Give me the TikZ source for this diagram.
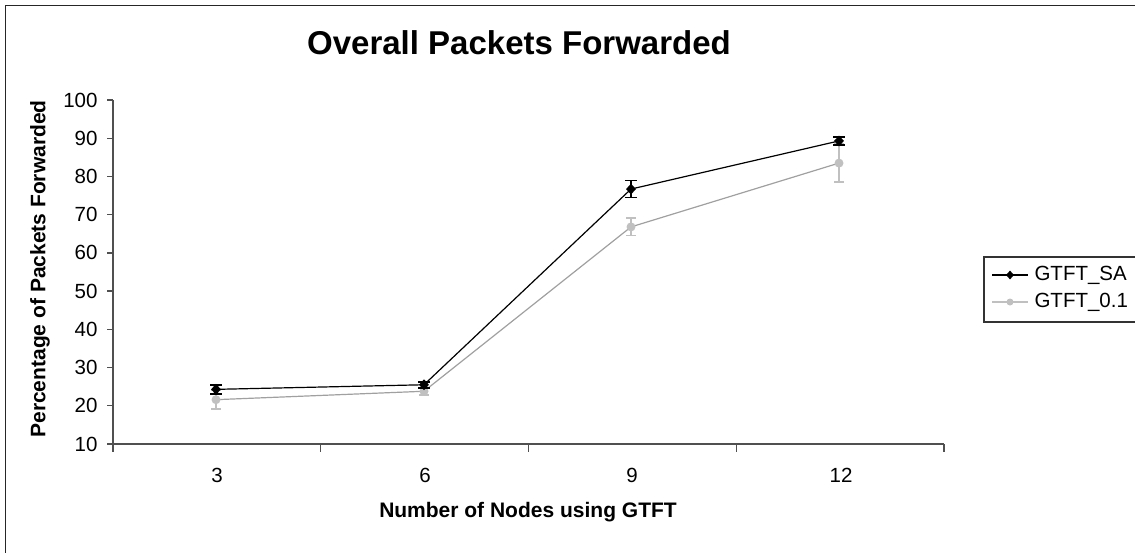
\documentclass[tikz,border=0pt]{standalone}
\usepackage{fontspec}
\setmainfont{Liberation Sans}
\usetikzlibrary{shapes.geometric}
\definecolor{greymark}{RGB}{192,192,192}
\definecolor{greyline}{RGB}{160,160,160}
\definecolor{axisgrey}{RGB}{80,80,80}
% value -> vertical pixel position
\newcommand\vpos[1]{444-(#1-10)*3.822}
\begin{document}
\begin{tikzpicture}[x=1pt,y=-1pt,
  samark/.style={diamond,fill=black,inner sep=0pt,minimum width=10pt,minimum height=11pt},
  gmark/.style={circle,fill=greymark,inner sep=0pt,minimum size=9pt},
  saline/.style={black,line width=1.2pt},
  gline/.style={greyline,line width=1.2pt},
  sabar/.style={black,line width=1.6pt},
  gbar/.style={greymark,line width=1.4pt},
  ticklab/.style={font=\fontsize{20.5}{24}\selectfont},
  axtitle/.style={font=\fontsize{21}{25}\bfseries\selectfont},
  axisline/.style={axisgrey,line width=1.3pt}]
\useasboundingbox (0,0) rectangle (1135,552);

% outer frame
\draw[black!85,line width=1.5pt] (5.5,560) -- (5.5,5.5) -- (1140,5.5);

% title
\node[font=\fontsize{33}{38}\bfseries\selectfont] (title) at (519,43) {Overall Packets Forwarded};

% axes
\draw[axisline] (113,100) -- (113,444) -- (944,444);
\foreach \v in {10,20,...,100}{
  \draw[axisline] (107,{\vpos{\v}}) -- (113,{\vpos{\v}});
  \node[ticklab,anchor=east] (yl\v) at (101,{\vpos{\v}}) {\v};
}
\foreach \i in {0,...,4}{
  \draw[axisline] ({113+\i*207.75},444) -- ({113+\i*207.75},452);
}
\foreach \c/\n [count=\k] in {217/3,425/6,632/9,841/12}{
  \node[ticklab] (xl\k) at (\c,475) {\n};
}

% axis titles
\node[axtitle,rotate=90] (ytitle) at (40,269) {Percentage of Packets Forwarded};
\node[axtitle] (xtitle) at (528,512) {Number of Nodes using GTFT};

% data points
\coordinate (g1) at (216,{\vpos{21.6}});
\coordinate (g2) at (424,{\vpos{23.8}});
\coordinate (g3) at (631,{\vpos{66.8}});
\coordinate (g4) at (839,{\vpos{83.5}});
\coordinate (s1) at (216,{\vpos{24.3}});
\coordinate (s2) at (424,{\vpos{25.5}});
\coordinate (s3) at (631,{\vpos{76.7}});
\coordinate (s4) at (839,{\vpos{89.3}});

% GTFT_0.1 series
\draw[gline] (g1) -- (g2) -- (g3) -- (g4);
\foreach \p/\e in {g1/2.4,g2/1.0,g3/2.3,g4/5.0}{
  \draw[gbar] ([yshift=-\e*3.822pt]\p) -- ([yshift=\e*3.822pt]\p);
  \draw[gbar] ([xshift=-5pt,yshift=-\e*3.822pt]\p) -- ([xshift=5pt,yshift=-\e*3.822pt]\p);
  \draw[gbar] ([xshift=-5pt,yshift=\e*3.822pt]\p) -- ([xshift=5pt,yshift=\e*3.822pt]\p);
}
\foreach \p in {g1,g2,g3,g4}{ \node[gmark] (m\p) at (\p) {}; }

% GTFT_SA series
\draw[saline] (s1) -- (s2) -- (s3) -- (s4);
\foreach \p/\e in {s1/1.2,s2/0.8,s3/2.2,s4/1.0}{
  \draw[sabar] ([yshift=-\e*3.822pt]\p) -- ([yshift=\e*3.822pt]\p);
  \draw[sabar] ([xshift=-6pt,yshift=-\e*3.822pt]\p) -- ([xshift=6pt,yshift=-\e*3.822pt]\p);
  \draw[sabar] ([xshift=-6pt,yshift=\e*3.822pt]\p) -- ([xshift=6pt,yshift=\e*3.822pt]\p);
}
\foreach \p in {s1,s2,s3,s4}{ \node[samark] (m\p) at (\p) {}; }

% legend
\draw[black!80,line width=1.2pt] (1140,257) -- (984,257) -- (984,322) -- (1140,322);
\coordinate (la) at (992,275);
\coordinate (lb) at (1028,275);
\coordinate (lc) at (992,302);
\coordinate (ld) at (1028,302);
\draw[saline] (la) -- (lb);
\node[samark,minimum width=8pt,minimum height=9pt] (lsa) at (1010,275) {};
\draw[greymark,line width=1.2pt] (lc) -- (ld);
\node[gmark,minimum size=7pt] (lg) at (1010,302) {};
\node[ticklab,anchor=west] (lsat) at (1031,275) {GTFT\_SA};
\node[ticklab,anchor=west] (lgt) at (1031,302) {GTFT\_0.1};
\end{tikzpicture}
\end{document}
